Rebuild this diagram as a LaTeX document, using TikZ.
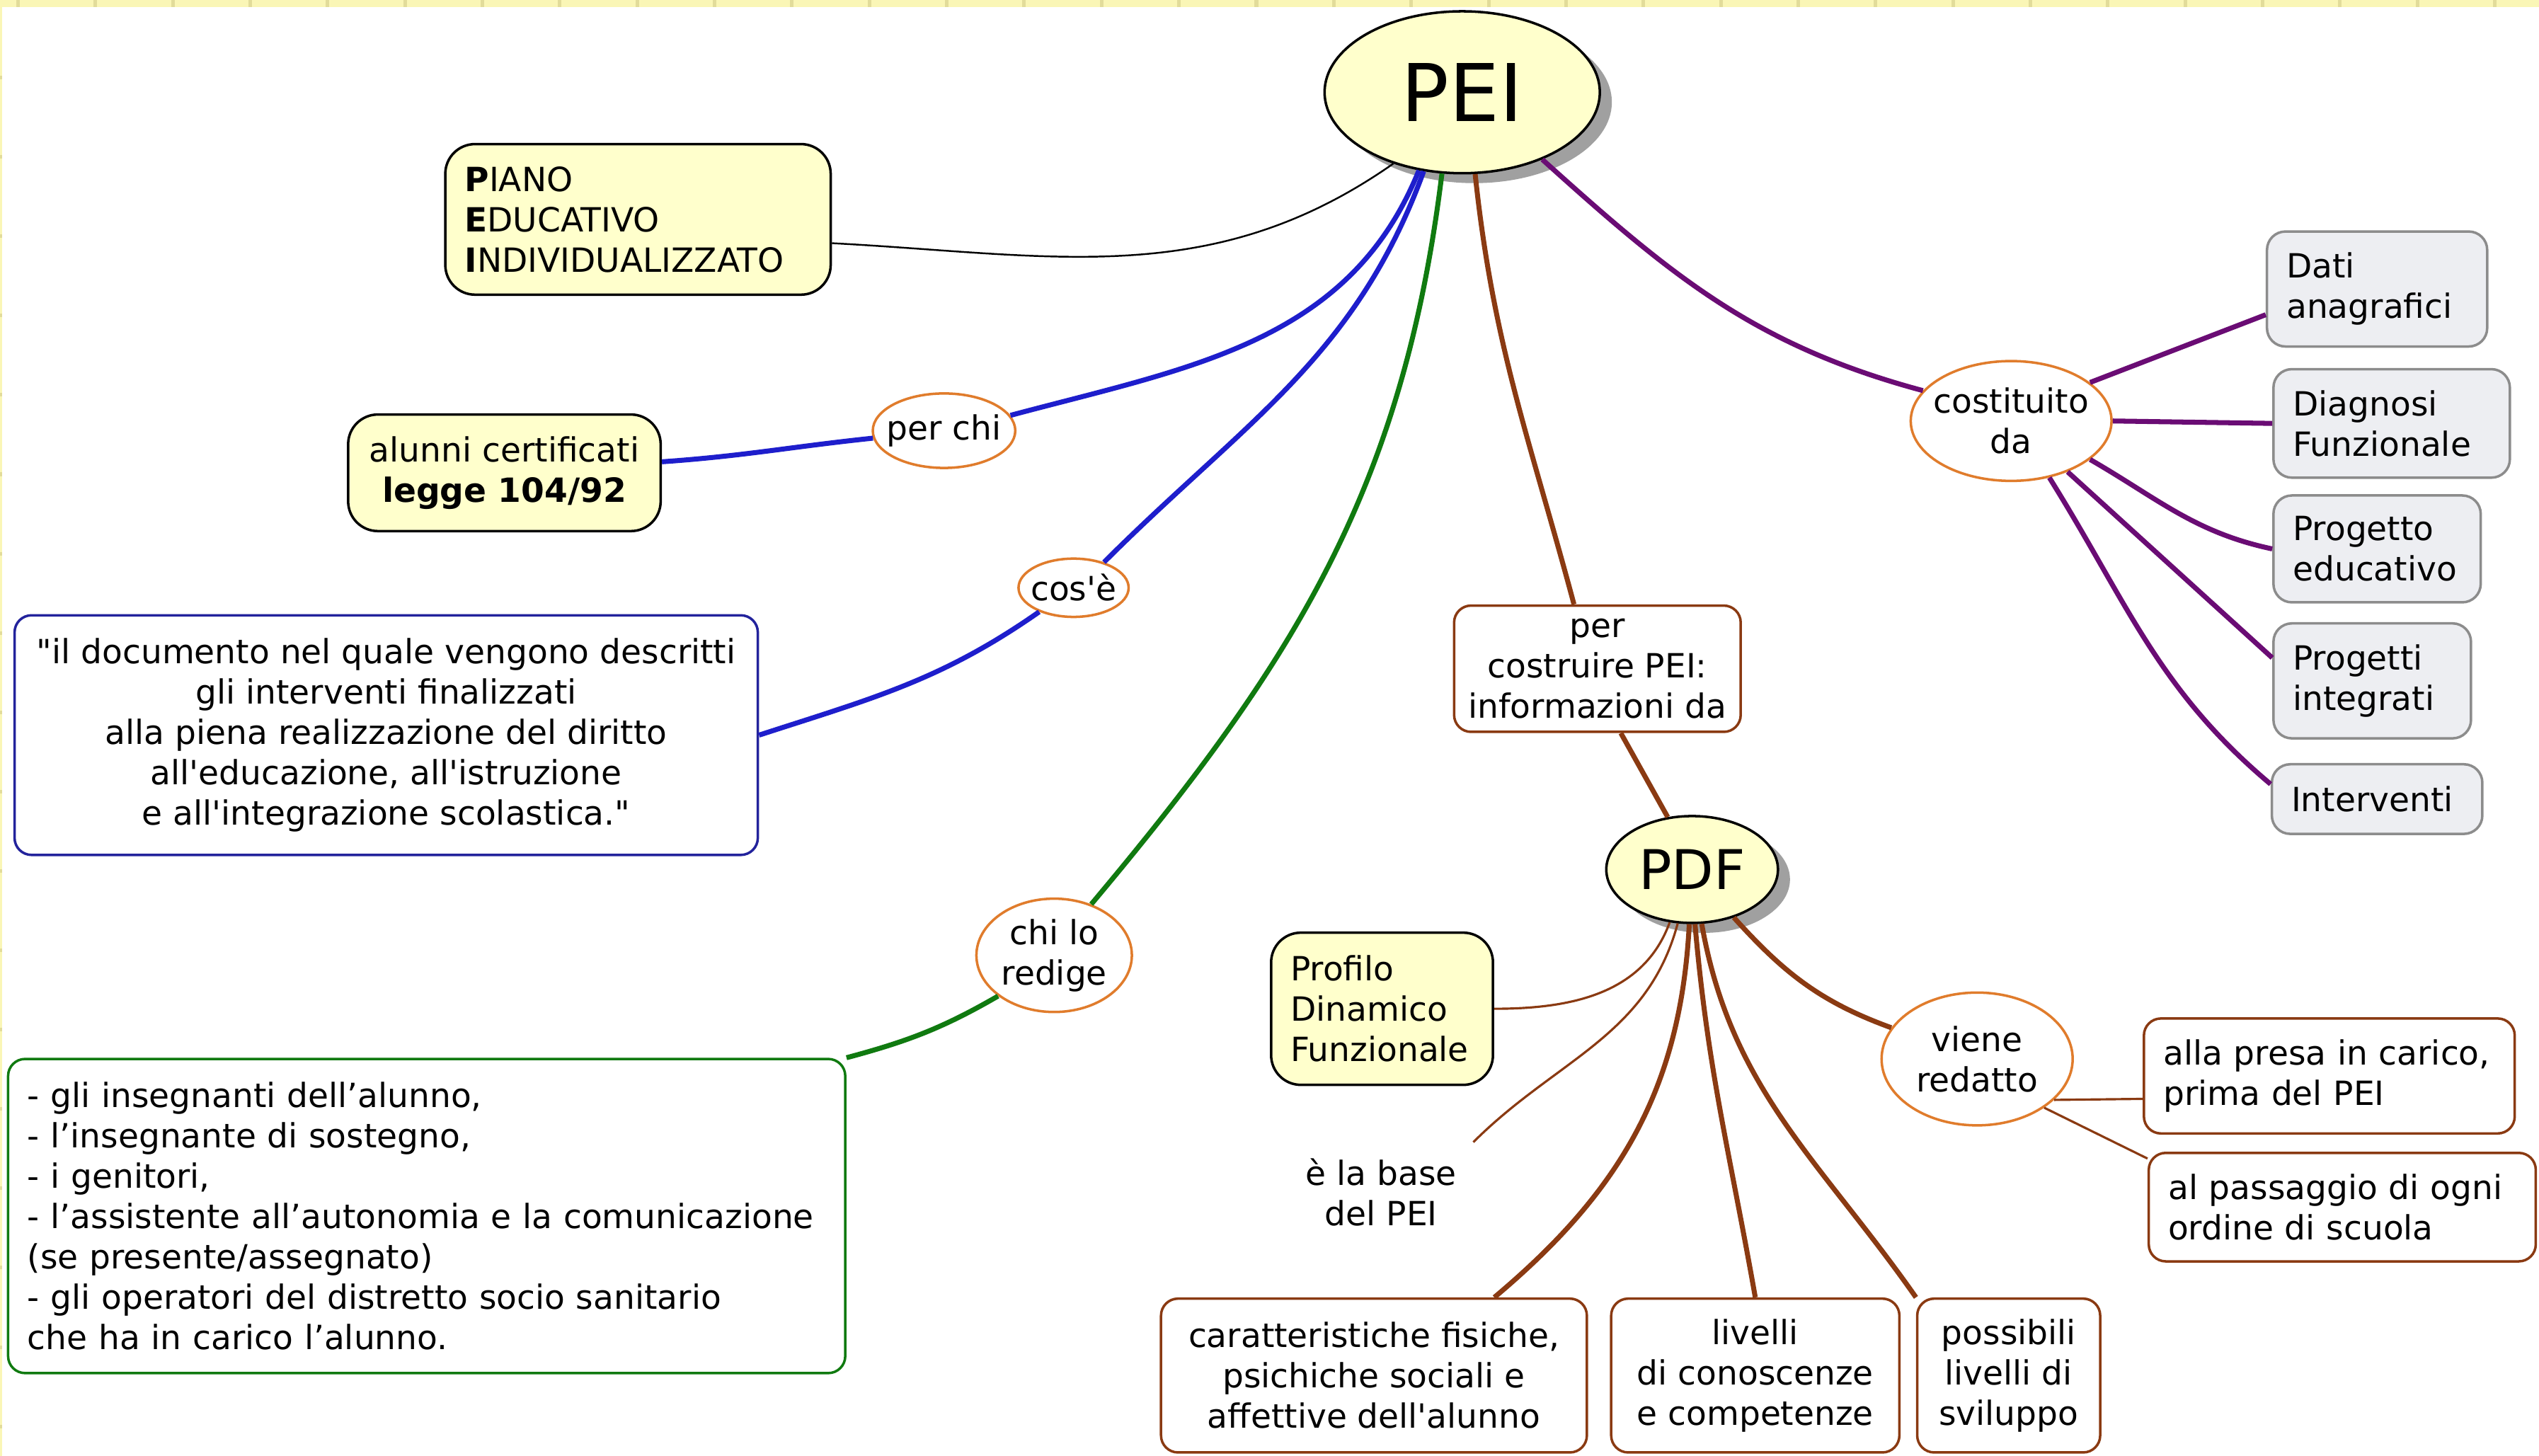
\documentclass[tikz,border=0pt]{standalone}
\usepackage{fontspec}
\usetikzlibrary{shapes.geometric,shadows}

\newfontfamily\mapfont{DejaVu Sans}
\newlength\pxu
\setlength\pxu{0.22876mm}

\definecolor{notefill}{HTML}{FFFFCC}
\definecolor{rulefill}{HTML}{FAF6B6}
\definecolor{rulemark}{HTML}{E2DC9A}
\definecolor{shadowgray}{HTML}{A0A0A0}
\definecolor{bluelink}{HTML}{1E1ECC}
\definecolor{navyedge}{HTML}{23239C}
\definecolor{greenlink}{HTML}{107A10}
\definecolor{brownlink}{HTML}{8A3A12}
\definecolor{purplelink}{HTML}{6A0C74}
\definecolor{ovaledge}{HTML}{E07C2C}
\definecolor{grayfill}{HTML}{EDEEF2}
\definecolor{grayedge}{HTML}{8C8C8C}

\begin{document}
\begin{tikzpicture}[x=0.22876mm, y=0.22876mm,
    every node/.style={font=\mapfont\fontsize{13.4}{16.2}\selectfont},
    boxsize/.style 2 args={minimum width=#1*\pxu, minimum height=#2*\pxu},
    lefttext/.style={align=left, inner xsep=12*\pxu, text width=#1*\pxu-24*\pxu, minimum width=#1*\pxu},
    title/.style={ellipse, draw, line width=1pt, fill=notefill, inner sep=0pt,
        drop shadow={shadow xshift=1.7mm, shadow yshift=-1.4mm, fill=shadowgray, opacity=1}},
    oval/.style={ellipse, draw=ovaledge, line width=1pt, fill=white, inner sep=0pt, inner xsep=-1.1mm, align=center},
    notebox/.style={rectangle, rounded corners=4.2mm, draw, line width=1pt, fill=notefill, inner ysep=1pt},
    bluebox/.style={rectangle, rounded corners=2.4mm, draw=navyedge, line width=1pt, fill=white, inner ysep=1pt},
    greenbox/.style={rectangle, rounded corners=2.4mm, draw=greenlink, line width=1pt, fill=white, inner ysep=1pt},
    brownbox/.style={rectangle, rounded corners=2.4mm, draw=brownlink, line width=1pt, fill=white, inner ysep=1pt},
    graybox/.style={rectangle, rounded corners=2.6mm, draw=grayedge, line width=1pt, fill=grayfill, inner ysep=1pt},
    blackedge/.style={draw=black, line width=0.7pt},
    blueedge/.style={draw=bluelink, line width=2pt},
    greenedge/.style={draw=greenlink, line width=2pt},
    brownedge/.style={draw=brownlink, line width=2pt},
    brownthin/.style={draw=brownlink, line width=0.9pt},
    purpleedge/.style={draw=purplelink, line width=2pt}]

    % sheet with ruler strips
    \fill[rulefill] (0,0) rectangle (1568,899);
    \fill[white] (1.3,0) rectangle (1568,894.5);
    \foreach \t in {0,...,32}
        \fill[rulemark] ({10+47.8*\t},894.5) rectangle +(2.2,4.5);
    \foreach \t in {1,...,18}
        \fill[rulemark] (0,{899-49*\t}) rectangle +(1.3,2.2);
    \useasboundingbox (0,0) rectangle (1568,899);

    % main topics
    \node[title, font=\mapfont\fontsize{32}{36}\selectfont, boxsize={170}{100}] (pei) at (903,842) {PEI};
    \node[title, font=\mapfont\fontsize{22}{26}\selectfont, boxsize={106}{66}] (pdf) at (1045,362) {PDF};

    % left side
    \node[notebox, lefttext=238, minimum height=93*\pxu] (piano) at (394,763.5)
        {\textbf{P}IANO\\\textbf{E}DUCATIVO\\\textbf{I}NDIVIDUALIZZATO};
    \node[notebox, boxsize={193}{72}, align=center] (alunni) at (311.5,607)
        {alunni certificati\\\textbf{legge 104/92}};
    \node[oval, boxsize={88}{46}] (perchi) at (583,633) {per chi};
    \node[oval, boxsize={68}{36}] (cose) at (663,536) {cos'è};
    \node[bluebox, boxsize={459}{148}, align=center] (quote) at (238.5,445)
        {"il documento nel quale vengono descritti\\gli interventi finalizzati\\alla piena realizzazione del diritto\\all'educazione, all'istruzione\\e all'integrazione scolastica."};
    \node[oval, boxsize={96}{70}] (chilo) at (651,309) {chi lo\\redige};
    \node[greenbox, lefttext=517, minimum height=194*\pxu] (chibox) at (263.5,148)
        {- gli insegnanti dell’alunno,\\- l’insegnante di sostegno,\\- i genitori,\\- l’assistente all’autonomia e la comunicazione\\(se presente/assegnato)\\- gli operatori del distretto socio sanitario\\che ha in carico l’alunno.};

    % PDF branch
    \node[brownbox, boxsize={177}{78}, align=center] (costruire) at (986.5,486)
        {per\\costruire PEI:\\informazioni da};
    \node[notebox, lefttext=137, minimum height=94*\pxu] (profilo) at (853.5,276)
        {Profilo\\Dinamico\\Funzionale};
    \node[align=center, inner sep=10*\pxu] (base) at (853,162.5) {è la base\\del PEI};
    \node[oval, boxsize={118}{82}] (viene) at (1221,245) {viene\\redatto};
    \node[brownbox, lefttext=229, minimum height=71*\pxu] (presa) at (1438.5,234.5)
        {alla presa in carico,\\prima del PEI};
    \node[brownbox, lefttext=239, minimum height=67*\pxu] (passaggio) at (1446.5,153.5)
        {al passaggio di ogni\\ordine di scuola};
    \node[brownbox, boxsize={263}{95}, align=center] (caratt) at (848.5,49.5)
        {caratteristiche fisiche,\\psichiche sociali e\\affettive dell'alunno};
    \node[brownbox, boxsize={178}{95}, align=center] (livelli) at (1084,49.5)
        {livelli\\di conoscenze\\e competenze};
    \node[brownbox, boxsize={113}{95}, align=center] (possibili) at (1240.5,49.5)
        {possibili\\livelli di\\sviluppo};

    % right side
    \node[oval, boxsize={124}{74}] (costituito) at (1242,639) {costituito\\da};
    \node[graybox, lefttext=136, minimum height=71*\pxu] (dati) at (1468,720.5) {Dati\\anagrafici};
    \node[graybox, lefttext=146, minimum height=67*\pxu] (diagnosi) at (1477,637.5) {Diagnosi\\Funzionale};
    \node[graybox, lefttext=128, minimum height=66*\pxu] (progetto) at (1468,560) {Progetto\\educativo};
    \node[graybox, lefttext=122, minimum height=71*\pxu] (progetti) at (1465,478.5) {Progetti\\integrati};
    \node[graybox, lefttext=130, minimum height=43*\pxu] (interventi) at (1468,405.5) {Interventi};

    % links
    \draw[blackedge] (piano.-7) to[out=-3, in=-145] (pei.-134);
    \draw[blueedge] (pei.-119) to[out=-112, in=15] (perchi.13);
    \draw[blueedge] (perchi.186) to[out=186, in=4] (alunni.4);
    \draw[blueedge] (pei.-116) to[out=-110, in=45] (cose.40);
    \draw[blueedge] (cose.-145) to[out=-145, in=18] (quote.east);
    \draw[greenedge] (pei.-104) to[out=-97, in=50] (chilo.54);
    \draw[greenedge] (chilo.-144) to[out=-150, in=15] (chibox.north east);
    \draw[brownedge] (pei.-81) to[out=-84, in=105] (costruire.110);
    \draw[brownedge] (costruire.-70) -- (pdf.115);
    \draw[brownthin] (pdf.-113) to[out=-110, in=0] (profilo.east);
    \draw[brownthin] (pdf.-105) to[out=-105, in=45] (base.north east);
    \draw[brownedge] (pdf.-93) to[out=-93, in=40] (caratt.33);
    \draw[brownedge] (pdf.-87) to[out=-85, in=100] (livelli.north);
    \draw[brownedge] (pdf.-80) to[out=-80, in=125] (possibili.north west);
    \draw[brownedge] (pdf.-49) to[out=-48, in=160] (viene.160);
    \draw[brownthin] (viene.-28) -- (presa.187);
    \draw[brownthin] (viene.-36) -- (passaggio.166);
    \draw[purpleedge] (pei.-40) to[out=-42, in=165] (costituito.161);
    \draw[purpleedge] (costituito.26) -- (dati.193);
    \draw[purpleedge] (costituito.east) -- (diagnosi.west);
    \draw[purpleedge] (costituito.-26) to[out=-30, in=168] (progetto.west);
    \draw[purpleedge] (costituito.-42) -- (progetti.167);
    \draw[purpleedge] (costituito.-56) to[out=-58, in=140] (interventi.172);
\end{tikzpicture}
\end{document}
